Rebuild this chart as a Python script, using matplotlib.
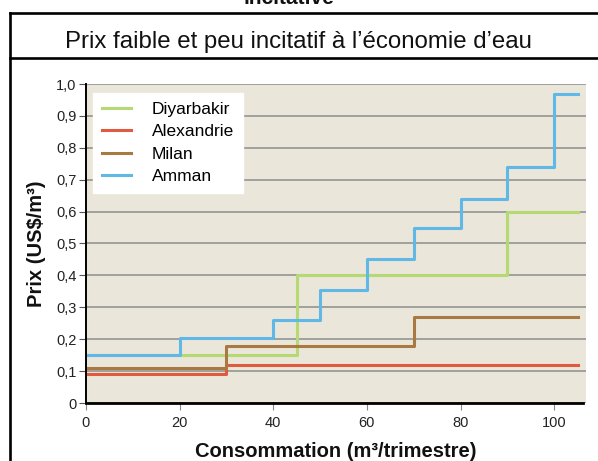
import matplotlib.pyplot as plt
from matplotlib.lines import Line2D

plt.rcParams["font.family"] = ["Liberation Sans", "DejaVu Sans"]

# Tarifs par tranche de consommation (m3/trimestre -> US$/m3)
diyarbakir_x = [0, 45, 90, 105]
diyarbakir_y = [0.15, 0.40, 0.60, 0.60]

alexandrie_x = [0, 30, 105]
alexandrie_y = [0.09, 0.12, 0.12]

milan_x = [0, 30, 70, 105]
milan_y = [0.11, 0.18, 0.27, 0.27]

amman_x = [0, 20, 40, 50, 60, 70, 80, 90, 100, 105]
amman_y = [0.15, 0.205, 0.26, 0.355, 0.45, 0.55, 0.64, 0.74, 0.97, 0.97]

series = [
    ("Diyarbakir", diyarbakir_x, diyarbakir_y, "#b6da73"),
    ("Alexandrie", alexandrie_x, alexandrie_y, "#e05a40"),
    ("Milan", milan_x, milan_y, "#a87942"),
    ("Amman", amman_x, amman_y, "#5fb8e6"),
]

y_ticks = [0, 0.1, 0.2, 0.3, 0.4, 0.5, 0.6, 0.7, 0.8, 0.9, 1.0]
y_labels = ["0", "0,1", "0,2", "0,3", "0,4", "0,5", "0,6", "0,7", "0,8", "0,9", "1,0"]
x_ticks = [0, 20, 40, 60, 80, 100]

W, H = 598, 461
fig = plt.figure(figsize=(W / 100, H / 100), dpi=100)

# cadre de l'encadré
frame_kw = dict(color="black", lw=1.9, transform=fig.transFigure)
fig.add_artist(Line2D([10 / W, 10 / W], [0, 1 - 13 / H], **frame_kw))
fig.add_artist(Line2D([10 / W, 1], [1 - 13 / H, 1 - 13 / H], **frame_kw))
fig.add_artist(Line2D([10 / W, 1], [1 - 58.5 / H, 1 - 58.5 / H], **frame_kw))

fig.text(289 / W, 1 - 4 / H, "incitative", ha="center", va="baseline",
         fontsize=15, fontweight="bold", color="#111111")
fig.text(298 / W, 1 - 48 / H, "Prix faible et peu incitatif à l’économie d’eau",
         ha="center", va="baseline", fontsize=17.3, color="#111111")

ax = fig.add_axes([86 / W, 58 / H, 500 / W, 319 / H])
ax.set_facecolor("#eae6da")

for name, xs, ys, col in series:
    ax.step(xs, ys, where="post", color=col, lw=2.2, label=name)

ax.set_xlim(0, 106.8)
ax.set_ylim(0, 1.0)
ax.set_yticks(y_ticks)
ax.set_yticklabels(y_labels)
ax.set_xticks(x_ticks)
ax.yaxis.grid(True, color="#8c8c8c", lw=1.1)
ax.set_axisbelow(True)

for s in ["top", "right"]:
    ax.spines[s].set_visible(False)
ax.spines["left"].set_linewidth(1.4)
ax.spines["bottom"].set_linewidth(2)
ax.spines["bottom"].set_bounds(0, 106.2)
ax.tick_params(axis="y", direction="out", length=5, width=0.8, color="#555555",
               labelsize=10.5, labelcolor="#222222", pad=2)
ax.tick_params(axis="x", direction="out", length=5, width=0.8, color="#888888",
               labelsize=10.5, labelcolor="#222222", pad=4)

ax.set_xlabel("Consommation (m³/trimestre)", fontsize=14.5, fontweight="bold",
              color="#111111", labelpad=9)
ax.set_ylabel("Prix (US$/m³)", fontsize=14.5, fontweight="bold",
              color="#111111", labelpad=7)

leg = ax.legend(loc="upper left", bbox_to_anchor=(0.014, 0.972), borderaxespad=0,
                fontsize=12.5, frameon=True, fancybox=False, handlelength=1.7,
                handletextpad=1.2, borderpad=0.5, labelspacing=0.42)
leg.get_frame().set_facecolor("white")
leg.get_frame().set_edgecolor("white")
leg.get_frame().set_alpha(1)

fig.savefig("out.png", dpi=100)
